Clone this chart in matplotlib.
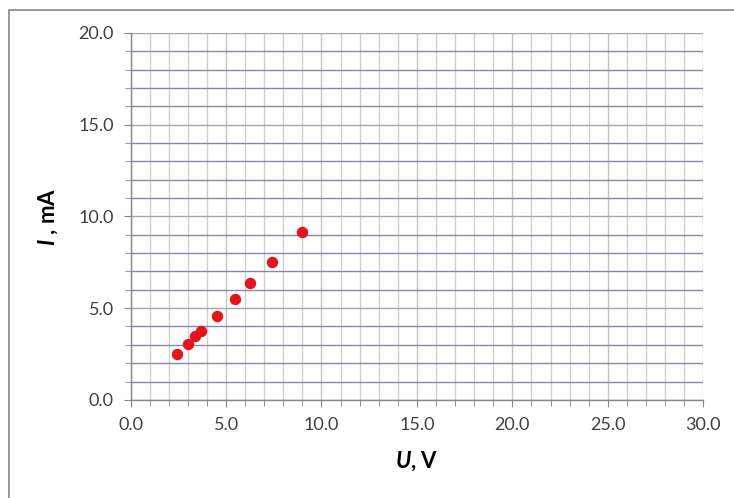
import matplotlib
matplotlib.use("Agg")
import matplotlib.pyplot as plt
from matplotlib.ticker import MultipleLocator, FormatStrFormatter
from matplotlib.patches import Rectangle

plt.rcParams['font.family'] = ['Lato', 'DejaVu Sans']
plt.rcParams['mathtext.fontset'] = 'custom'
plt.rcParams['mathtext.it'] = 'Lato:bold:italic'

# measured points
voltage = [2.44, 3.02, 3.37, 3.67, 4.51, 5.45, 6.24, 7.39, 8.98]
current = [2.51, 3.04, 3.49, 3.75, 4.58, 5.51, 6.37, 7.49, 9.13]

grey = '#868686'

fig = plt.figure(figsize=(7.34, 4.98), dpi=100)
ax = fig.add_axes([0.178, 0.197, 0.780, 0.737])

ax.set_xlim(0, 30)
ax.set_ylim(0, 20)
ax.xaxis.set_major_locator(MultipleLocator(5))
ax.xaxis.set_minor_locator(MultipleLocator(1))
ax.yaxis.set_major_locator(MultipleLocator(5))
ax.yaxis.set_minor_locator(MultipleLocator(1))
ax.xaxis.set_major_formatter(FormatStrFormatter('%.1f'))
ax.yaxis.set_major_formatter(FormatStrFormatter('%.1f'))

# grid
ax.grid(which='minor', axis='x', color='#d0d0d0', linewidth=1)
ax.grid(which='major', axis='x', color='#c4c4c4', linewidth=1)
ax.grid(which='minor', axis='y', color='#9282ad', linewidth=1)
ax.grid(which='major', axis='y', color='#a6a6a6', linewidth=1)
ax.set_axisbelow(True)

for s in ['top', 'right']:
    ax.spines[s].set_visible(False)
for s in ['left', 'bottom']:
    ax.spines[s].set_color(grey)
    ax.spines[s].set_linewidth(1)

ax.tick_params(which='major', direction='out', length=5, color=grey,
               labelsize=13, labelcolor='#404040', pad=7)
ax.tick_params(which='minor', direction='out', length=4, color=grey)

ax.scatter(voltage, current, s=52, color='#e3141b', zorder=3, clip_on=False)

ax.set_xlabel(r'$\mathit{U}$, V', fontsize=16, fontweight='bold', labelpad=12)
ax.set_ylabel(r'$\mathit{I}$ , mA', fontsize=16, fontweight='bold', labelpad=13)

# outer frame of the chart area
fig.patches.append(Rectangle((9 / 734, -0.1), 1.2, 1 - 10 / 498 + 0.1,
                             transform=fig.transFigure, fill=False,
                             edgecolor=grey, linewidth=1.2))

fig.savefig('out.png', dpi=100)
